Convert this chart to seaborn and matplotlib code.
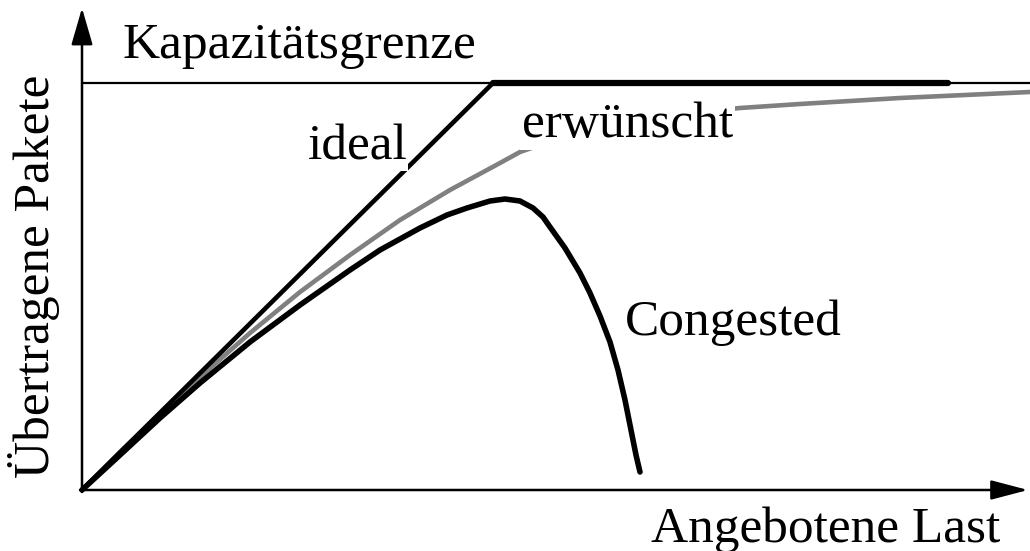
import matplotlib
matplotlib.use("Agg")
import matplotlib.pyplot as plt
import seaborn as sns
import numpy as np

sns.set_theme(style="white")
plt.rcParams['font.family'] = ['Liberation Serif', 'DejaVu Serif']

# Data (load on x, transmitted packets on y; origin at 0,0)
capacity = 407
ideal_x = [0, 411]
ideal_y = [0, 407]
cap_thick_x = [411, 866]

desired_x = [0, 38, 78, 118, 168, 218, 268, 318, 368, 418, 438, 478, 518, 568, 618, 658, 718, 818, 948]
desired_y = [0, 38, 76, 113, 157, 198, 235, 270, 300, 327, 338, 352, 363, 372, 378, 382, 386, 392, 398]

congested_x = [0, 38, 78, 118, 168, 218, 268, 298, 338, 365, 385, 408, 423, 438, 451, 461, 468,
               483, 498, 508, 518, 528, 536, 543, 549, 554, 558]
congested_y = [0, 35, 72, 107, 148, 185, 220, 240, 262, 275, 282, 289, 291, 289, 282, 273, 263,
               242, 217, 197, 174, 148, 120, 90, 60, 35, 18]

fig = plt.figure(figsize=(10.30, 5.51), dpi=100)
ax = fig.add_axes([0, 0, 1, 1])
ax.set_xlim(-82, 948)
ax.set_ylim(-61, 490)
ax.axis("off")

# axes with arrows
ax.annotate("", xy=(0, 482), xytext=(0, -2),
            arrowprops=dict(arrowstyle="-|>,head_length=1.9,head_width=0.55", lw=1.8, color="black", shrinkA=0, shrinkB=0))
ax.annotate("", xy=(946, 0), xytext=(-2, 0),
            arrowprops=dict(arrowstyle="-|>,head_length=1.9,head_width=0.5", lw=1.8, color="black", shrinkA=0, shrinkB=0))

# capacity limit
sns.lineplot(x=[0, 948], y=[capacity, capacity], ax=ax, color="black", lw=1.6)
sns.lineplot(x=cap_thick_x, y=[capacity, capacity], ax=ax, color="black", lw=4.5)

# curves
sns.lineplot(x=desired_x, y=desired_y, ax=ax, color="#808080", lw=3.3, sort=False)
sns.lineplot(x=ideal_x, y=ideal_y, ax=ax, color="black", lw=3.3, sort=False)
sns.lineplot(x=congested_x, y=congested_y, ax=ax, color="black", lw=4.0, sort=False)

fs = 37
ax.text(40, 432, "Kapazitätsgrenze", fontsize=fs, ha="left", va="baseline", color="black")
ax.text(226, 331, "ideal", fontsize=fs, ha="left", va="baseline", color="black",
        bbox=dict(facecolor="white", edgecolor="none", pad=0.5))
ax.text(440, 353, "erwünscht", fontsize=fs, ha="left", va="baseline", color="black",
        bbox=dict(facecolor="white", edgecolor="none", pad=1))
ax.text(543, 155, "Congested", fontsize=fs, ha="left", va="baseline", color="black")
ax.text(918, -52, "Angebotene Last", fontsize=fs, ha="right", va="baseline", color="black")
ax.text(-48, 214, "Übertragene Pakete", fontsize=fs, ha="center", va="center",
        rotation=90, color="black")

fig.savefig("out.png", dpi=100)
